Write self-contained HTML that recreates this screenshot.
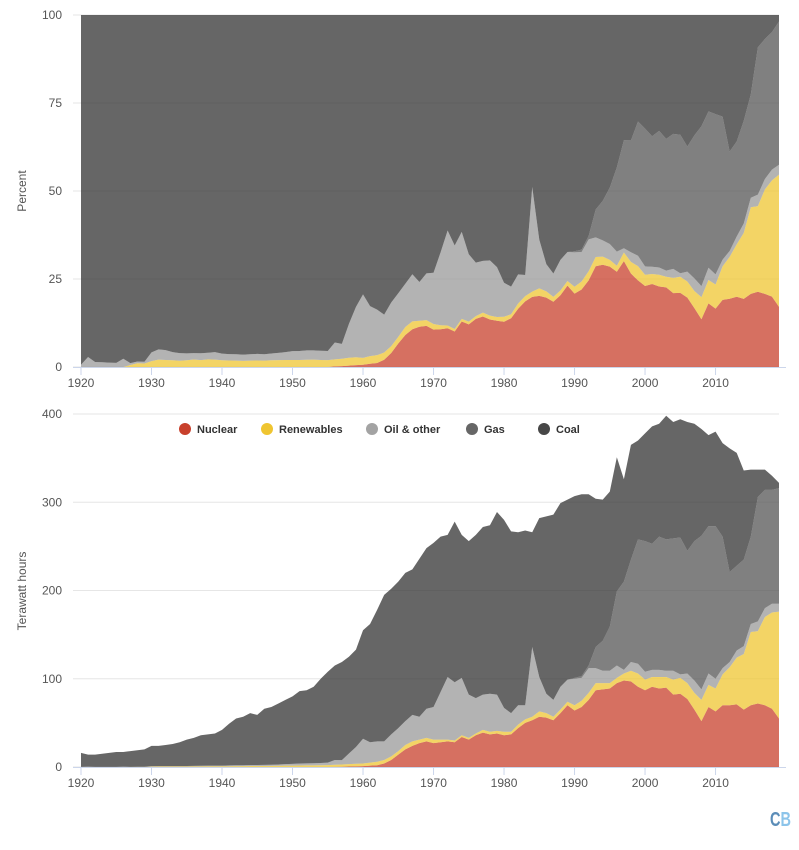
<!DOCTYPE html>
<html><head><meta charset="utf-8">
<style>
html,body{margin:0;padding:0;background:#fff;}
svg{display:block;font-family:"Liberation Sans",sans-serif;}
</style></head>
<body>
<svg id="chart" width="799" height="850" viewBox="0 0 799 850">
  <g id="top-grid"></g>
  <g id="bot-grid"></g>
  <g id="top-areas"></g>
  <g id="bot-areas"></g>
  <g id="axes"></g>
  <text x="26" y="191" transform="rotate(-90 26 191)" text-anchor="middle" font-size="12" fill="#555">Percent</text>
  <text x="26" y="591" transform="rotate(-90 26 591)" text-anchor="middle" font-size="12" fill="#555">Terawatt hours</text>
  <g id="legend"></g>
  <text x="770" y="826" font-size="20" font-weight="bold" textLength="21" lengthAdjust="spacingAndGlyphs"><tspan fill="#5b8db8">C</tspan><tspan fill="#8cc4ea">B</tspan></text>
</svg>
<script>
const years = [];
for (let yr = 1920; yr <= 2019; yr++) years.push(yr);
const seriesNames = ["Nuclear","Renewables","Oil & other","Gas","Coal"];
const seriesColors = ["#c8402c","#efc531","#999999","#555555","#333333"];
const nuclear = [0,0,0,0,0,0,0,0,0,0, 0,0,0,0,0,0,0,0,0,0, 0,0,0,0,0,0,0,0,0,0, 0,0,0,0,0,0,0.2,0.3,0.5,0.7,
 1,1.5,2,4,8,14,20,24,27,29, 27,28,29,28,34,31,36,39,37,38, 36,37,44,50,53,57,56,53,61,70,
 64,68,76,87,88,89,95,98,97,91, 87,91,89,90,82,83,77,65,52,68, 63,70,70,71,65,70,72,70,66,55];
const renewables = [0,0,0,0,0,0,0,0.1,0.2,0.2, 0.4,0.5,0.5,0.5,0.5,0.6,0.7,0.7,0.8,0.8, 0.8,0.9,1,1,1.1,1.1,1.2,1.3,1.4,1.5, 1.6,1.7,1.8,1.9,2,2.1,2.3,2.5,2.8,3,
 3,3.5,4,4,4,4,5,5,4,4, 4,3,2,2,2,2,2,3,3,3, 4,3,4,4,4,6,5,4,4,4,
 6,7,8,8,7,6,6,8,12,15, 12,11,13,12,17,18,18,19,24,25, 26,35,43,53,63,83,82,100,109,121];
const oil = [0.1,0.4,0.2,0.2,0.2,0.2,0.4,0.1,0.1,0.1, 0.6,0.7,0.7,0.6,0.6,0.6,0.6,0.7,0.7,0.8, 0.8,0.9,1,1,1.1,1.1,1.2,1.3,1.5,1.7, 2,2.2,2.3,2.4,2.6,2.8,5.5,5,12,19,
 28,23,23,21,25,26,27,30,26,33, 37,54,71,66,65,49,40,40,43,41, 27,21,22,16,79,39,22,19,26,25,
 30,26,28,17,14,14,14,4,10,11, 9,8,8,7,10,4,11,14,12,13, 11,7,6,8,9,9,11,10,10,9];
const gas = [0,0,0,0,0,0,0,0,0,0, 0,0,0,0,0,0,0,0,0,0, 0,0,0,0,0,0,0,0,0,0, 0,0,0,0,0,0,0,0,0,0,
 0,0,0,0,0,0,0,0,0,0, 0,0,0,0,0,0,0,0,0,0, 0,0,0,0,0,0,0,0,0,0,
 1,2,3,24,34,50,84,100,116,141, 148,143,151,149,150,155,139,158,174,167, 173,149,102,96,98,99,141,134,129,131];
const coal = [15.9,13.6,13.8,14.8,15.8,16.8,16.6,17.8,18.7,19.7, 23,22.8,23.8,24.9,26.9,29.8,31.7,34.6,35.5,36.4, 40.4,47.2,53,55,58.8,56.8,63.6,65.4,69.1,72.8, 76.4,82.1,82.9,86.7,95.4,103.1,107,111.2,109.7,110.3,
 123,134,149,166,165,166,168,165,179,182, 186,176,161,182,162,174,185,190,191,207, 213,206,196,198,130,180,201,210,208,204,
 206,206,194,168,160,153,152,116,130,112, 122,133,128,140,132,134,146,133,121,103, 107,106,140,128,101,76,31,23,16,6];
const pctTicks = [0,25,50,75,100];
const twhTicks = [0,100,200,300,400];
const yearTicks = [1920,1930,1940,1950,1960,1970,1980,1990,2000,2010];

const NS = "http://www.w3.org/2000/svg";
const X0 = 81, X1 = 779;
function xScale(yr){ return X0 + (yr - 1920) * (X1 - X0) / 99; }
function yPct(p){ return 367 - p * 3.52; }
function yTwh(v){ return 767 - v * 0.8825; }
function mk(tag, attrs, parent){ const e = document.createElementNS(NS, tag); for (const k in attrs) e.setAttribute(k, attrs[k]); parent.appendChild(e); return e; }

const all = [nuclear, renewables, oil, gas, coal];
const totals = years.map((_, i) => all.reduce((s, a) => s + a[i], 0));

const tg = document.getElementById('top-grid');
pctTicks.forEach(t => {
  const l = mk('line', {x1:73, x2:779, y1:yPct(t), y2:yPct(t), stroke:'#e6e6e6', 'stroke-width':1}, tg);
  
  
  const tx = mk('text', {x:62, y:yPct(t)+4, 'text-anchor':'end', 'font-size':12, fill:'#555'}, tg);
  tx.textContent = t;
  
  
});
const bg = document.getElementById('bot-grid');
twhTicks.forEach(t => {
  const l = mk('line', {x1:73, x2:779, y1:yTwh(t), y2:yTwh(t), stroke:'#e6e6e6', 'stroke-width':1}, bg);
  
  
  const tx = mk('text', {x:62, y:yTwh(t)+4, 'text-anchor':'end', 'font-size':12, fill:'#555'}, bg);
  tx.textContent = t;
  
  
});

function drawStack(group, yf, norm, prefix){
  const base = years.map(() => 0);
  all.forEach((arr, si) => {
    const top = years.map((_, i) => base[i] + (norm ? arr[i] / totals[i] * 100 : arr[i]));
    let d = '';
    years.forEach((yr, i) => { d += (i ? 'L' : 'M') + xScale(yr).toFixed(2) + ',' + yf(top[i]).toFixed(2); });
    for (let i = years.length - 1; i >= 0; i--) d += 'L' + xScale(years[i]).toFixed(2) + ',' + yf(base[i]).toFixed(2);
    d += 'Z';
    const p = mk('path', {d:d, fill:seriesColors[si], 'fill-opacity':0.75}, group);
    
    
    top.forEach((v, i) => base[i] = v);
  });
}
drawStack(document.getElementById('top-areas'), yPct, true, 'percent');
drawStack(document.getElementById('bot-areas'), yTwh, false, 'twh');

const ax = document.getElementById('axes');
[[367, 'percent'], [767, 'twh']].forEach(([y0, nm]) => {
  const l = mk('line', {x1:73, x2:786, y1:y0+0.5, y2:y0+0.5, stroke:'#ccd6eb', 'stroke-width':1}, ax);
  
  
  yearTicks.forEach(yr => {
    const t = mk('line', {x1:xScale(yr), x2:xScale(yr), y1:y0, y2:y0+8, stroke:'#ccd6eb', 'stroke-width':1}, ax);
    
    
    const tx = mk('text', {x:xScale(yr), y:y0+20, 'text-anchor':'middle', 'font-size':12, fill:'#555'}, ax);
    tx.textContent = yr;
    
    
  });
});

const lg = document.getElementById('legend');
const legendX = [185, 267, 372, 472, 544];
seriesNames.forEach((n, i) => {
  const g = mk('g', {}, lg);
  
  
  const c = mk('circle', {cx:legendX[i], cy:429, r:6, fill:seriesColors[i], 'fill-opacity':i < 2 ? 1 : 0.9}, g);
  
  
  const t = mk('text', {x:legendX[i]+12, y:433, 'font-size':11, 'font-weight':'bold', fill:'#333'}, g);
  t.textContent = n;
  
  
});
</script>
</body></html>
